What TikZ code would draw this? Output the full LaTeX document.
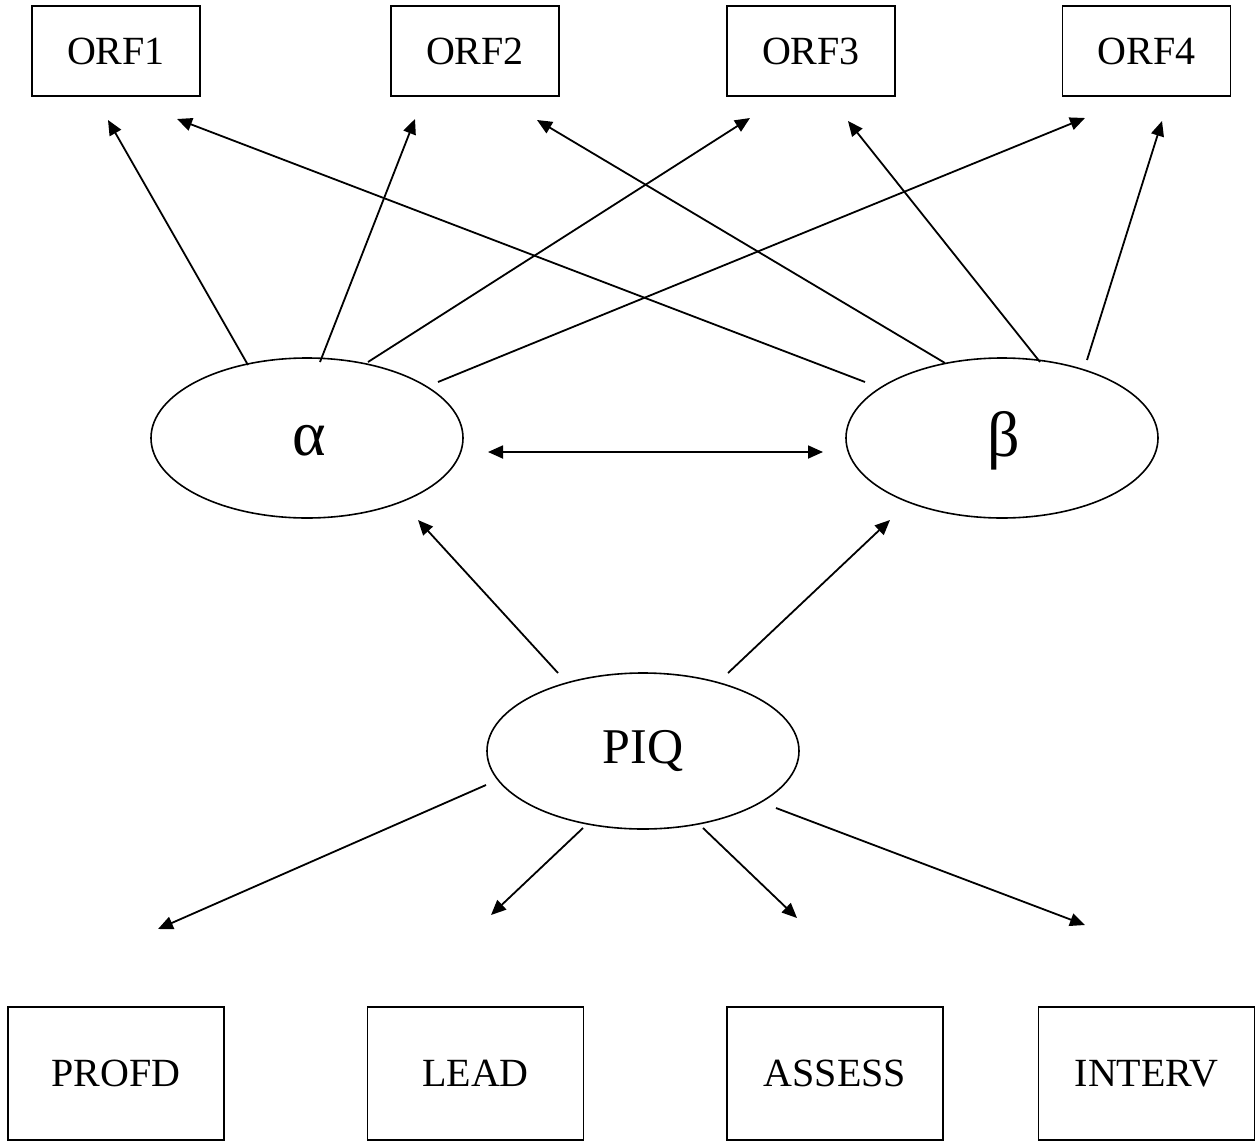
\documentclass[tikz,border=0pt]{standalone}
\usepackage{fontspec}
\setmainfont{Liberation Serif}
\usetikzlibrary{arrows.meta,shapes.geometric}
\begin{document}
\begin{tikzpicture}[x=1pt,y=-1pt,
  box/.style={draw,line width=1.8pt,rectangle,inner sep=0pt,font=\fontsize{40}{48}\selectfont},
  topbox/.style={box,minimum width=168pt,minimum height=90pt},
  botbox/.style={box,minimum width=216pt,minimum height=133pt},
  latent/.style={draw,line width=1.6pt,ellipse,inner sep=0pt,minimum width=312pt,minimum height=160pt,font=\fontsize{50}{60}\selectfont},
  greek/.style={font=\fontsize{64}{70}\selectfont},
  arr/.style={line width=1.8pt,-{Triangle[length=15pt,width=13pt]}},
  darr/.style={line width=1.8pt,{Triangle[length=15pt,width=13pt]}-{Triangle[length=15pt,width=13pt]}}]
\useasboundingbox (0,0) rectangle (1259,1141);
% boxes
\node[topbox] (orf1) at (116,51) {ORF1};
\node[topbox] (orf2) at (475,51) {ORF2};
\node[topbox] (orf3) at (811,51) {ORF3};
\node[topbox] (orf4) at (1146.5,51) {ORF4};
\node[botbox] (profd) at (116,1073.5) {PROFD};
\node[botbox] (lead) at (475.5,1073.5) {LEAD};
\node[botbox] (assess) at (835,1073.5) {ASSESS};
\node[botbox] (interv) at (1146.5,1073.5) {INTERV};
% latents
\node[latent] (alpha) at (307,438) {};
\node[greek] (alphat) at (309,441) {α};
\node[latent] (beta) at (1002,438) {};
\node[greek] (betat) at (1004,441) {β};
\node[latent,minimum height=156pt] (piq) at (643,751) {PIQ};
% endpoints
\coordinate (a1) at (248,365); \coordinate (t11) at (108,120);
\coordinate (a2) at (320,362); \coordinate (t21) at (415,119);
\coordinate (a3) at (368,362); \coordinate (t31) at (750,118);
\coordinate (a4) at (438,382); \coordinate (t41) at (1085,118);
\coordinate (b1) at (865,382); \coordinate (t12) at (177,119);
\coordinate (b2) at (945,363); \coordinate (t22) at (537,120);
\coordinate (b3) at (1040,362); \coordinate (t32) at (848,121);
\coordinate (b4) at (1087,360); \coordinate (t42) at (1162,121);
\coordinate (da) at (488,452); \coordinate (db) at (823,452);
\coordinate (p1) at (558,673); \coordinate (ta) at (418,520);
\coordinate (p2) at (728,673); \coordinate (tb) at (890,520);
\coordinate (p3) at (486,785); \coordinate (tp) at (158,929);
\coordinate (p4) at (583,828); \coordinate (tl) at (491,915);
\coordinate (p5) at (703,828); \coordinate (ts) at (797,918);
\coordinate (p6) at (776,808); \coordinate (ti) at (1085,925);
% arrows
\draw[arr] (a1) -- (t11);
\draw[arr] (a2) -- (t21);
\draw[arr] (a3) -- (t31);
\draw[arr] (a4) -- (t41);
\draw[arr] (b1) -- (t12);
\draw[arr] (b2) -- (t22);
\draw[arr] (b3) -- (t32);
\draw[arr] (b4) -- (t42);
\draw[darr] (da) -- (db);
\draw[arr] (p1) -- (ta);
\draw[arr] (p2) -- (tb);
\draw[arr] (p3) -- (tp);
\draw[arr] (p4) -- (tl);
\draw[arr] (p5) -- (ts);
\draw[arr] (p6) -- (ti);
\end{tikzpicture}
\end{document}
